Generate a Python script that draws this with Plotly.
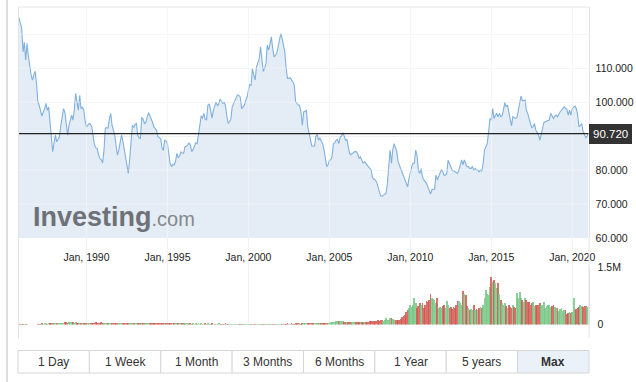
import pandas as pd
import plotly.graph_objects as go

# ---------------- data (monthly, Nov 1985 .. Jan 2021) ----------------
first_month = "1985-11-01"

dxy_close = [
    124.9, 123.0,
    121.7, 114.8, 117.6, 112.4, 117.3, 113.5, 110.4, 108.0, 106.5, 108.0, 109.1, 105.5,
    100.1, 99.0, 97.5, 95.9, 97.0, 98.0, 99.6, 97.6, 98.6, 93.5, 89.0, 85.4,
    88.0, 90.3, 88.3, 89.0, 89.8, 93.0, 95.7, 98.1, 97.0, 94.0, 90.3, 93.0,
    95.0, 96.2, 94.7, 97.6, 102.6, 100.5, 97.6, 102.0, 98.1, 98.5, 97.6, 94.5,
    92.7, 93.2, 93.7, 93.5, 92.7, 90.0, 87.4, 86.5, 86.4, 84.5, 83.4, 83.0,
    82.1, 86.0, 92.3, 92.5, 92.3, 95.0, 96.7, 93.2, 91.5, 90.3, 87.0, 84.4,
    86.0, 88.8, 90.3, 88.5, 86.4, 84.0, 81.5, 79.0, 83.0, 88.8, 93.2, 92.5,
    93.5, 93.7, 90.3, 89.5, 89.3, 95.5, 95.0, 93.7, 94.0, 95.5, 96.9, 96.0,
    95.2, 94.0, 92.7, 92.2, 91.7, 89.8, 89.5, 89.3, 86.5, 85.8, 88.8, 88.5,
    87.8, 85.0, 82.0, 81.0, 81.7, 81.5, 82.5, 84.9, 83.7, 84.0, 85.4, 85.0,
    84.9, 86.9, 87.0, 87.4, 88.0, 87.4, 85.4, 86.0, 87.4, 88.0, 87.8, 90.3,
    94.2, 96.0, 95.2, 96.7, 95.0, 94.7, 99.1, 99.5, 97.6, 95.3, 97.5, 99.1,
    100.0, 99.0, 99.3, 100.9, 100.3, 99.6, 100.0, 99.1, 96.0, 93.7, 94.2, 95.0,
    98.6, 99.5, 100.5, 101.0, 102.2, 102.0, 101.5, 98.1, 98.5, 99.1, 100.5, 101.5,
    103.5, 105.2, 105.0, 109.9, 108.0, 106.5, 110.4, 111.5, 112.8, 116.3, 112.8, 109.0,
    110.0, 111.4, 116.8, 115.3, 117.0, 119.2, 116.0, 113.3, 113.8, 114.3, 116.3, 118.0,
    120.2, 118.7, 117.0, 114.8, 110.0, 107.0, 107.0, 107.2, 106.5, 106.0, 105.0, 100.1,
    99.6, 99.1, 99.1, 97.0, 93.2, 97.1, 97.3, 97.6, 92.7, 90.8, 89.0, 87.1,
    87.0, 87.1, 89.8, 90.5, 88.8, 89.5, 88.5, 87.8, 86.0, 83.4, 81.0, 81.5,
    82.9, 83.0, 83.9, 87.8, 88.0, 88.8, 89.0, 87.8, 89.8, 90.0, 91.0, 90.0,
    88.8, 89.0, 87.0, 84.9, 84.5, 84.9, 85.0, 85.5, 85.4, 84.8, 83.4, 83.9,
    83.0, 82.0, 82.5, 82.0, 81.5, 81.0, 80.5, 80.0, 77.6, 77.3, 77.1, 76.5,
    75.1, 74.0, 72.4, 72.3, 72.6, 72.7, 73.1, 76.1, 80.0, 85.9, 82.0, 86.1,
    87.8, 86.5, 85.4, 82.4, 81.4, 80.4, 79.0, 78.0, 77.1, 76.0, 75.1, 77.5,
    79.5, 81.0, 82.0, 82.0, 85.9, 84.4, 80.0, 79.0, 80.4, 78.0, 77.1, 76.5,
    76.1, 75.0, 74.2, 72.9, 74.2, 74.3, 74.4, 78.5, 77.1, 78.0, 79.0, 80.2,
    79.5, 78.5, 78.5, 79.0, 82.9, 82.0, 81.0, 80.0, 79.8, 79.5, 79.3, 79.0,
    80.0, 82.0, 83.0, 81.5, 83.0, 82.0, 81.0, 81.0, 80.5, 80.5, 81.0, 80.0,
    80.5, 80.0, 80.0, 79.5, 80.0, 79.7, 82.0, 85.9, 86.8, 87.8, 91.3, 95.2,
    94.7, 98.1, 95.2, 96.0, 96.7, 95.7, 96.7, 95.7, 96.0, 97.6, 99.9, 98.6,
    99.1, 97.0, 95.2, 93.0, 95.7, 95.5, 95.2, 95.4, 97.6, 99.0, 101.8, 100.3,
    100.5, 100.6, 97.6, 96.7, 95.2, 94.0, 92.5, 92.8, 93.7, 91.8, 91.0, 90.3,
    88.8, 90.3, 92.3, 94.0, 94.2, 94.4, 94.5, 94.7, 96.7, 96.0, 95.2, 95.8,
    96.2, 95.7, 96.5, 97.1, 97.6, 98.1, 98.6, 98.2, 97.9, 96.2, 97.6, 96.2,
    98.1, 98.5, 98.8, 98.1, 96.2, 92.7, 93.2, 93.7, 91.3, 90.5, 89.5, 90.0,
    90.72,
]

volume_millions = [
    0.02, 0.02,
    0.02, 0.02, 0.02, 0.02, 0.02, 0, 0, 0, 0, 0, 0, 0,
    0.02, 0.025, 0.025, 0.03, 0.025, 0.03, 0.03, 0.025, 0.03, 0.035, 0.03, 0.03,
    0.03, 0.035, 0.04, 0.04, 0.035, 0.045, 0.05, 0.05, 0.055, 0.06, 0.05, 0.055,
    0.06, 0.055, 0.06, 0.05, 0.055, 0.045, 0.05, 0.04, 0.045, 0.035, 0.04, 0.035,
    0.04, 0.035, 0.04, 0.045, 0.05, 0.045, 0.05, 0.055, 0.045, 0.04, 0.05, 0.06,
    0.05, 0.045, 0.05, 0.04, 0.045, 0.04, 0.035, 0.04, 0.035, 0.04, 0.035, 0.04,
    0.04, 0.035, 0.04, 0.045, 0.04, 0.035, 0.04, 0.045, 0.05, 0.04, 0.035, 0.04,
    0.035, 0.03, 0.035, 0.03, 0.035, 0.03, 0.035, 0.04, 0.035, 0.03, 0.035, 0.03,
    0.035, 0.03, 0.035, 0.03, 0.035, 0.04, 0.035, 0.04, 0.035, 0.04, 0.035, 0.03,
    0.035, 0.04, 0.035, 0.03, 0.035, 0.03, 0.03, 0.035, 0.03, 0.035, 0.03, 0.03,
    0.03, 0.035, 0.03, 0.03, 0.025, 0.03, 0.025, 0.03, 0.025, 0.03, 0.025, 0.03,
    0.025, 0.03, 0.025, 0.025, 0.03, 0.025, 0.03, 0.025, 0.025, 0.03, 0.025, 0.025,
    0.025, 0.025, 0.03, 0.025, 0.025, 0.02, 0.025, 0.03, 0.025, 0.025, 0.02, 0.025,
    0.02, 0.025, 0.025, 0.02, 0.025, 0.02, 0.025, 0.025, 0.02, 0.025, 0.02, 0.025,
    0.02, 0.025, 0.02, 0.025, 0.02, 0.025, 0.025, 0.02, 0.025, 0.02, 0.025, 0.02,
    0.025, 0.02, 0.025, 0.02, 0.025, 0.02, 0.025, 0.025, 0.02, 0.025, 0.025, 0.02,
    0.025, 0.025, 0.02, 0.025, 0.025, 0.03, 0.025, 0.025, 0.03, 0.025, 0.025, 0.03,
    0.025, 0.03, 0.03, 0.025, 0.03, 0.03, 0.035, 0.03, 0.035, 0.035, 0.03, 0.035,
    0.035, 0.04, 0.035, 0.04, 0.035, 0.04, 0.045, 0.04, 0.04, 0.05, 0.045, 0.05,
    0.05, 0.055, 0.06, 0.065, 0.07, 0.08, 0.09, 0.085, 0.09, 0.08, 0.09, 0.07,
    0.07, 0.065, 0.07, 0.06, 0.065, 0.07, 0.06, 0.065, 0.06, 0.065, 0.06, 0.065,
    0.06, 0.065, 0.06, 0.07, 0.065, 0.07, 0.08, 0.1, 0.09, 0.085, 0.09, 0.1,
    0.11, 0.1, 0.12, 0.11, 0.1, 0.13, 0.17, 0.12, 0.13, 0.16, 0.18, 0.15,
    0.13, 0.12, 0.12, 0.13, 0.12, 0.14, 0.2, 0.22, 0.24, 0.33, 0.38, 0.42,
    0.52, 0.45, 0.50, 0.70, 0.55, 0.43, 0.49, 0.55, 0.50, 0.57, 0.42, 0.50,
    0.61, 0.58, 0.65, 0.80, 0.70, 0.66, 0.64, 0.55, 0.70, 0.43, 0.45, 0.42,
    0.48, 0.52, 0.42, 0.61, 0.50, 0.42, 0.45, 0.40, 0.45, 0.42, 0.50, 0.61,
    0.61, 0.55, 0.50, 0.88, 0.80, 0.77, 0.48, 0.42, 0.37, 0.40, 0.37, 0.50,
    0.37, 0.40, 0.37, 0.42, 0.45, 0.42, 0.50, 0.68, 0.90, 0.80, 0.77, 0.99,
    1.23, 1.10, 1.17, 1.08, 0.95, 1.08, 0.79, 0.64, 0.55, 0.50, 0.55, 0.48,
    0.42, 0.50, 0.45, 0.42, 0.50, 0.45, 0.42, 0.81, 0.70, 0.86, 0.70, 0.65,
    0.59, 0.70, 0.64, 0.60, 0.58, 0.52, 0.55, 0.59, 0.49, 0.50, 0.52, 0.50,
    0.55, 0.50, 0.52, 0.59, 0.42, 0.48, 0.50, 0.50, 0.46, 0.48, 0.50, 0.45,
    0.42, 0.43, 0.35, 0.40, 0.42, 0.35, 0.38, 0.37, 0.28, 0.30, 0.33, 0.30,
    0.33, 0.68, 0.37, 0.40, 0.42, 0.45, 0.50, 0.49, 0.45, 0.48, 0.47, 0.46,
    0.48,
]

x_tick_dates = ["1990-01-01", "1995-01-01", "2000-01-01", "2005-01-01",
                "2010-01-01", "2015-01-01", "2020-01-01"]
y_ticks = [60, 70, 80, 90, 100, 110, 120]
y_tick_text = ["60.000", "70.000", "80.000", "", "100.000", "110.000", ""]
vol_ticks = [0, 1.5]
vol_tick_text = ["0", "1.5M"]
range_buttons = ["1 Day", "1 Week", "1 Month", "3 Months", "6 Months", "1 Year", "5 years", "Max"]

# ---------------- build ----------------
dates = pd.date_range(first_month, periods=len(dxy_close), freq="MS")
last_price = dxy_close[-1]

UP = "rgba(118,199,134,0.85)"
DOWN = "rgba(208,88,80,0.85)"
bar_colors = [UP] + [UP if dxy_close[i] >= dxy_close[i - 1] else DOWN
                     for i in range(1, len(dxy_close))]

W, H = 636, 382
def px(x):
    return x / W
def py(y):
    return 1 - y / H

FONT = "Arial, Liberation Sans, sans-serif"
GRID = "#f1f1f1"

fig = go.Figure()
fig.add_trace(go.Scatter(
    x=dates, y=dxy_close, mode="lines",
    line=dict(color="#80b1dd", width=1.1),
    fill="tozeroy", fillcolor="#e4ecf5",
    xaxis="x", yaxis="y", hoverinfo="skip",
))
fig.add_trace(go.Bar(
    x=dates, y=volume_millions,
    marker=dict(color=bar_colors, line=dict(width=0)),
    width=40 * 24 * 3600 * 1000,
    xaxis="x2", yaxis="y2", hoverinfo="skip",
))

x_dom = [px(19), px(588.5)]
xr = [dates[0], dates[-1]]

fig.update_layout(
    template="none",
    width=W, height=H, autosize=False,
    margin=dict(l=0, r=0, t=0, b=0, pad=0, autoexpand=False),
    paper_bgcolor="white", plot_bgcolor="rgba(0,0,0,0)",
    showlegend=False, bargap=0,
    font=dict(family=FONT, size=10.5, color="#333333"),
    xaxis=dict(
        domain=x_dom, range=xr, type="date", automargin=False,
        tickvals=x_tick_dates, tickformat="%b, %Y",
        showgrid=True, gridcolor=GRID, gridwidth=1, zeroline=False, showline=False,
        ticks="outside", ticklen=9, tickcolor="rgba(0,0,0,0)",
        tickfont=dict(size=10.5, color="#222222"),
        anchor="y",
    ),
    yaxis=dict(
        domain=[py(238), py(7)], range=[60, 128], automargin=False,
        side="right", tickvals=y_ticks, ticktext=y_tick_text,
        showgrid=True, gridcolor=GRID, gridwidth=1, zeroline=False,
        showline=True, linecolor="#e3e3e3", linewidth=1,
        ticks="outside", ticklen=4, tickcolor="rgba(0,0,0,0)",
        tickfont=dict(size=10.5, color="#222222"),
        anchor="x",
    ),
    xaxis2=dict(
        domain=x_dom, range=xr, type="date", matches="x", automargin=False,
        tickvals=x_tick_dates,
        showgrid=True, gridcolor=GRID, gridwidth=1, zeroline=False, showline=False,
        showticklabels=False, ticks="", anchor="y2",
    ),
    yaxis2=dict(
        domain=[py(324.5), py(267)], range=[0, 1.5], automargin=False,
        side="right", tickvals=vol_ticks, ticktext=vol_tick_text,
        showgrid=True, gridcolor=GRID, gridwidth=1, zeroline=False,
        showline=True, linecolor="#d5dde6", linewidth=1,
        ticks="outside", ticklen=6, tickcolor="rgba(0,0,0,0)",
        tickfont=dict(size=10.5, color="#222222"),
        anchor="x2",
    ),
)

shapes = []
annotations = []

# grid continuation between the two panels, and faint grid seen through the area fill
for d in x_tick_dates:
    shapes.append(dict(type="line", xref="x", yref="paper", x0=d, x1=d,
                       y0=py(267), y1=py(238), layer="below",
                       line=dict(color=GRID, width=1)))
    shapes.append(dict(type="line", xref="x", yref="paper", x0=d, x1=d,
                       y0=py(238), y1=py(7), layer="above",
                       line=dict(color="rgba(255,255,255,0.45)", width=1)))
for v in y_ticks:
    if v in (60, 90):
        continue
    shapes.append(dict(type="line", xref="x domain", yref="y", x0=0, x1=1,
                       y0=v, y1=v, layer="above",
                       line=dict(color="rgba(255,255,255,0.45)", width=1)))

# last price line and label
shapes.append(dict(type="line", xref="x domain", yref="y", x0=0, x1=1,
                   y0=last_price, y1=last_price, line=dict(color="#222222", width=1.2)))
annotations.append(dict(xref="x domain", yref="y", x=1.0, y=last_price,
                        xanchor="left", yanchor="middle", showarrow=False,
                        text=f"{last_price:.3f}", bgcolor="#333333",
                        font=dict(color="white", size=11.5, family=FONT),
                        borderpad=1, borderwidth=3, bordercolor="#333333"))

# frame lines
shapes.append(dict(type="line", xref="paper", yref="paper", x0=px(7), x1=px(7),
                   y0=0, y1=1, line=dict(color="#d2d2d2", width=1.5)))
shapes.append(dict(type="line", xref="paper", yref="paper", x0=px(18.5), x1=px(18.5),
                   y0=py(338), y1=py(7), line=dict(color="#e3e3e3", width=1)))
shapes.append(dict(type="line", xref="paper", yref="paper", x0=px(18.5), x1=px(589),
                   y0=py(7), y1=py(7), line=dict(color="#e3e3e3", width=1)))
shapes.append(dict(type="line", xref="paper", yref="paper", x0=px(589), x1=px(589),
                   y0=py(338), y1=py(238), line=dict(color="#e3e3e3", width=1)))

# watermark
annotations.append(dict(xref="paper", yref="paper", x=px(31), y=py(217),
                        xanchor="left", yanchor="middle", showarrow=False,
                        text="<b>Investing</b><span style='font-size:20px;color:#85888c'>.com</span>",
                        font=dict(size=27, color="#6e7175", family=FONT)))

# range buttons
bx0, bx1, by0, by1 = 18, 589, 350.5, 373
bw = (bx1 - bx0) / len(range_buttons)
for i, lab in enumerate(range_buttons):
    x0 = bx0 + i * bw
    x1 = x0 + bw
    is_max = lab == "Max"
    shapes.append(dict(type="rect", xref="paper", yref="paper",
                       x0=px(x0), x1=px(x1), y0=py(by1), y1=py(by0),
                       line=dict(color="#d6d6d6", width=1),
                       fillcolor="#eaf1f9" if is_max else "white"))
    annotations.append(dict(xref="paper", yref="paper", x=px((x0 + x1) / 2),
                            y=py((by0 + by1) / 2), xanchor="center", yanchor="middle",
                            showarrow=False, text=f"<b>{lab}</b>" if is_max else lab,
                            font=dict(size=12, color="#333333", family=FONT)))

fig.update_layout(shapes=shapes, annotations=annotations)
fig.write_html(
    "out.html",
    config={"displayModeBar": False, "staticPlot": True},
    post_script=(
        "document.documentElement.style.margin='0px';"
        "document.documentElement.style.overflow='hidden';"
        "document.body.style.margin='0px';"
        "document.body.style.padding='0px';"
        "document.body.style.overflow='hidden';"
    ),
)
